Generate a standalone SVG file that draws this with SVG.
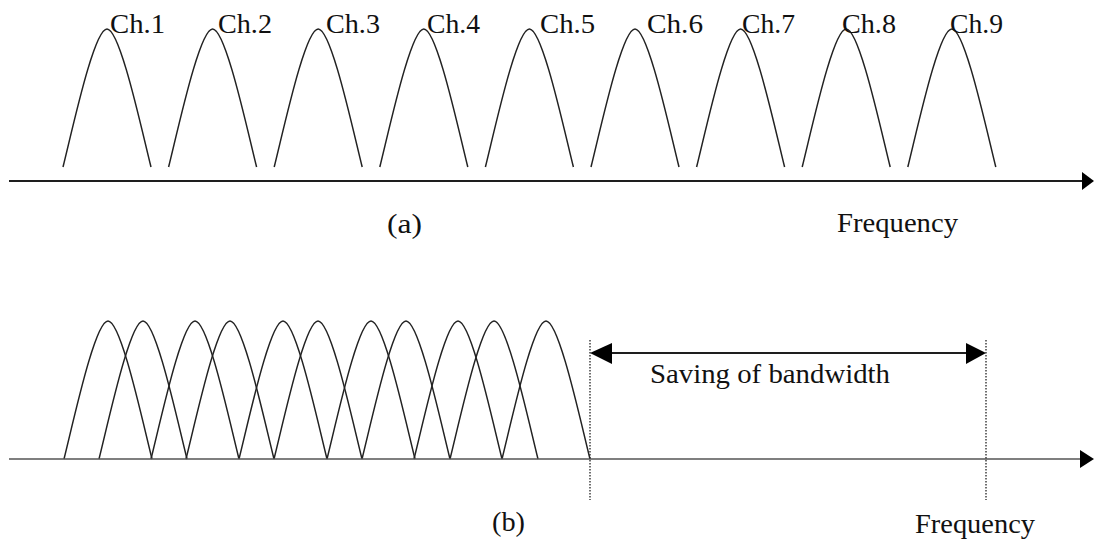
<svg xmlns="http://www.w3.org/2000/svg" width="1094" height="540" viewBox="0 0 1094 540">
<style>
.crv{fill:none;stroke:#222;stroke-width:1.5}
.lbl{font-family:"Liberation Serif","Times New Roman",serif;font-size:27px;fill:#111}
.ax1{stroke:#1e1e1e;stroke-width:2.2;fill:none}
.ax2{stroke:#555;stroke-width:1.6;fill:none}
.dot{stroke:#222;stroke-width:1.3;stroke-dasharray:1.5 1.5;fill:none}
.ah{fill:#000}
</style>
<defs>
<path id="arch" d="M0,0 C10,-40 31,-138 44,-138 C57,-138 78,-40 88,0"/>
</defs>
<rect width="1094" height="540" fill="#fff"/>
<g id="part-a">
<g id="ch1"><use href="#arch" class="crv" transform="translate(63,167)"/><text class="lbl" x="110" y="33" textLength="55" lengthAdjust="spacingAndGlyphs">Ch.1</text></g>
<g id="ch2"><use href="#arch" class="crv" transform="translate(168.6,167)"/><text class="lbl" x="218" y="33" textLength="54" lengthAdjust="spacingAndGlyphs">Ch.2</text></g>
<g id="ch3"><use href="#arch" class="crv" transform="translate(274.2,167)"/><text class="lbl" x="326" y="33" textLength="54" lengthAdjust="spacingAndGlyphs">Ch.3</text></g>
<g id="ch4"><use href="#arch" class="crv" transform="translate(379.8,167)"/><text class="lbl" x="427" y="33" textLength="53" lengthAdjust="spacingAndGlyphs">Ch.4</text></g>
<g id="ch5"><use href="#arch" class="crv" transform="translate(485.4,167)"/><text class="lbl" x="540" y="33" textLength="55" lengthAdjust="spacingAndGlyphs">Ch.5</text></g>
<g id="ch6"><use href="#arch" class="crv" transform="translate(591,167)"/><text class="lbl" x="647" y="33" textLength="56" lengthAdjust="spacingAndGlyphs">Ch.6</text></g>
<g id="ch7"><use href="#arch" class="crv" transform="translate(696.6,167)"/><text class="lbl" x="742" y="33" textLength="53" lengthAdjust="spacingAndGlyphs">Ch.7</text></g>
<g id="ch8"><use href="#arch" class="crv" transform="translate(802.2,167)"/><text class="lbl" x="842" y="33" textLength="54" lengthAdjust="spacingAndGlyphs">Ch.8</text></g>
<g id="ch9"><use href="#arch" class="crv" transform="translate(907.8,167)"/><text class="lbl" x="950" y="33" textLength="53" lengthAdjust="spacingAndGlyphs">Ch.9</text></g>
<text class="lbl" x="387" y="233" textLength="35" lengthAdjust="spacingAndGlyphs">(a)</text>
<text class="lbl" x="837" y="232" textLength="121" lengthAdjust="spacingAndGlyphs">Frequency</text>
</g>
<g id="part-b">
<g id="b1"><use href="#arch" class="crv" transform="translate(64,459)"/></g>
<g id="b2"><use href="#arch" class="crv" transform="translate(99,459)"/></g>
<g id="b3"><use href="#arch" class="crv" transform="translate(151,459)"/></g>
<g id="b4"><use href="#arch" class="crv" transform="translate(186,459)"/></g>
<g id="b5"><use href="#arch" class="crv" transform="translate(239,459)"/></g>
<g id="b6"><use href="#arch" class="crv" transform="translate(274,459)"/></g>
<g id="b7"><use href="#arch" class="crv" transform="translate(327,459)"/></g>
<g id="b8"><use href="#arch" class="crv" transform="translate(362,459)"/></g>
<g id="b9"><use href="#arch" class="crv" transform="translate(414,459)"/></g>
<g id="b10"><use href="#arch" class="crv" transform="translate(450,459)"/></g>
<g id="b11"><use href="#arch" class="crv" transform="translate(502,459)"/></g>
<text class="lbl" x="650" y="383" textLength="240" lengthAdjust="spacingAndGlyphs">Saving of bandwidth</text>
<text class="lbl" x="492" y="531" textLength="33" lengthAdjust="spacingAndGlyphs">(b)</text>
<text class="lbl" x="915" y="533" textLength="120" lengthAdjust="spacingAndGlyphs">Frequency</text>
</g>
<g id="connectors">
<line class="ax1" x1="9" y1="181" x2="1084" y2="181"/>
<polygon class="ah" points="1094,181 1082,172 1082,190"/>
<line class="ax2" x1="9" y1="459" x2="1084" y2="459"/>
<polygon class="ah" points="1094,459 1080,450 1080,468"/>
<line class="dot" x1="590" y1="340" x2="590" y2="500"/>
<line class="dot" x1="986" y1="340" x2="986" y2="500"/>
<line class="ax1" x1="608" y1="353" x2="970" y2="353"/>
<polygon class="ah" points="590,353 612,343 612,364"/>
<polygon class="ah" points="986,353 966,343 966,364"/>
</g>
</svg>
